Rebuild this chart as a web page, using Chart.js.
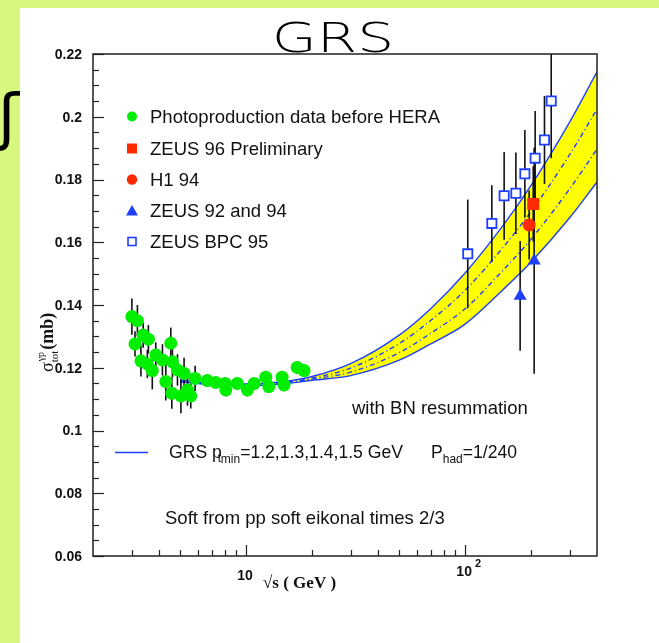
<!DOCTYPE html>
<html>
<head>
<meta charset="utf-8">
<script src="https://cdn.jsdelivr.net/npm/chart.js@4"></script>
<style>
  html, body { margin: 0; padding: 0; background: #d6f87c; }
  #panel { position: absolute; left: 20px; top: 8px; right: 0; bottom: 0; background: #ffffff; }
  #wrap { position: absolute; left: 0; top: 0; width: 659px; height: 643px; }
</style>
</head>
<body>
<div id="panel"></div>
<div id="wrap"><canvas id="grs-chart"></canvas></div>
<script>
// Datos
const photoX = [3.01, 3.19, 3.11, 3.39, 3.58, 3.31, 3.54, 3.73, 3.87, 4.15, 4.53, 4.61, 4.30, 4.86, 4.58, 5.04, 5.21, 5.40, 5.59, 5.85, 6.66, 7.27, 8.08, 8.02, 9.12, 10.14, 10.9, 12.3, 12.7, 14.6, 14.9, 17.1, 18.4];
const photoY = [0.1363, 0.1350, 0.1276, 0.1304, 0.1291, 0.1222, 0.1212, 0.1191, 0.1241, 0.1225, 0.1278, 0.1219, 0.1156, 0.1193, 0.1119, 0.1110, 0.1182, 0.1129, 0.1110, 0.1166, 0.1159, 0.1153, 0.1129, 0.1150, 0.1150, 0.1129, 0.1150, 0.1170, 0.1140, 0.1170, 0.1145, 0.1201, 0.1191];
const photoErr = [0.0058, 0.005, 0.004, 0.004, 0.0045, 0.005, 0.0045, 0.006, 0.004, 0.005, 0.005, 0.005, 0.006, 0.005, 0.005, 0.0055, 0.005, 0.005, 0.004, 0.004, 0.002, 0.002, 0.002, 0.002, 0.002, 0.002, 0.002, 0.002, 0.002, 0.002, 0.002, 0.002, 0.002];

const zeus96X = [204.6];
const zeus96Y = [0.1722];
const zeus96Err = [0.012];

const h1X = [196.0];
const h1Y = [0.1655];
const h1Err = [0.011];

const zeus92X = [178.3, 206.6];
const zeus92Y = [0.1429, 0.1541];
const zeus92Err = [0.0175, 0.036];

const bpcX = [102.8, 132.4, 150.7, 170.5, 187.4, 208.8, 230.3, 247.2];
const bpcY = [0.1563, 0.1660, 0.1748, 0.1756, 0.1818, 0.1868, 0.1926, 0.2050];
const bpcErr = [0.0173, 0.0122, 0.014, 0.013, 0.014, 0.015, 0.014, 0.0182];

// Curvas GRS (banda)
const curveX = [5, 7, 10, 15, 20, 30, 50, 70, 100, 150, 200, 300, 400];
const grsUpper = [0.1160, 0.1150, 0.1148, 0.1156, 0.1172, 0.1213, 0.1304, 0.1390, 0.1502, 0.1656, 0.1781, 0.1983, 0.2143];
const grsLower = [0.1155, 0.1146, 0.1143, 0.1149, 0.1160, 0.1175, 0.1224, 0.1277, 0.1339, 0.1451, 0.1537, 0.1678, 0.1792];
const grsMid1 = [0.1158, 0.1149, 0.1146, 0.1153, 0.1167, 0.1199, 0.1277, 0.1352, 0.1447, 0.1586, 0.1698, 0.1879, 0.2024];
const grsMid2 = [0.1157, 0.1147, 0.1145, 0.1152, 0.1164, 0.1186, 0.1248, 0.1311, 0.1388, 0.1513, 0.1610, 0.1770, 0.1897];

// Ejes
const yTicks = [0.06, 0.08, 0.1, 0.12, 0.14, 0.16, 0.18, 0.2, 0.22];
const yTickLabels = ["0.06", "0.08", "0.1", "0.12", "0.14", "0.16", "0.18", "0.2", "0.22"];
const xMajor = [10, 100];
const xMinor = [3, 4, 5, 6, 7, 8, 9, 20, 30, 40, 50, 60, 70, 80, 90, 200, 300];

const BLUE = "#1f3fff";
const GREEN = "#00ee00";
const RED = "#ff2a00";
const TXT = '18.5px "Liberation Sans"';
const TXT2 = '17.6px "Liberation Sans"';
const SUB = '12px "Liberation Sans"';

const pts = (xs, ys) => xs.map((x, i) => ({ x: x, y: ys[i] }));

const curve = (data, order, dash, extra) => Object.assign({
    type: "line",
    data: pts(curveX, data),
    borderColor: BLUE,
    borderWidth: 1.4,
    borderDash: dash,
    pointRadius: 0,
    cubicInterpolationMode: "monotone",
    fill: false,
    order: order,
}, extra || {});

const markers = (xs, ys, style, r, color, order, bg) => ({
    type: "scatter",
    data: pts(xs, ys),
    pointStyle: style,
    pointRadius: r,
    backgroundColor: bg || color,
    borderColor: color,
    borderWidth: bg ? 1.8 : 0,
    order: order,
});

// Barras de error, ticks hacia dentro, textos
const errorSets = [
    [photoX, photoY, photoErr],
    [bpcX, bpcY, bpcErr],
    [zeus92X, zeus92Y, zeus92Err],
    [h1X, h1Y, h1Err],
    [zeus96X, zeus96Y, zeus96Err],
];

const sub = (ctx, txt, x, y, font) => { ctx.font = font; ctx.fillText(txt, x, y); return ctx.measureText(txt).width; };

const decorPlugin = {
    id: "decor",
    afterDatasetDraw(chart, args) {
        if (args.index !== 0) return;
        const ctx = chart.ctx, xs = chart.scales.x, ys = chart.scales.y, a = chart.chartArea;
        ctx.save();
        ctx.beginPath();
        ctx.rect(a.left, a.top, a.right - a.left, a.bottom - a.top);
        ctx.clip();
        ctx.strokeStyle = "#111";
        ctx.lineWidth = 1.6;
        errorSets.forEach(([X, Y, E]) => {
            X.forEach((x, i) => {
                const px = xs.getPixelForValue(x);
                ctx.beginPath();
                ctx.moveTo(px, ys.getPixelForValue(Y[i] + E[i]));
                ctx.lineTo(px, ys.getPixelForValue(Y[i] - E[i]));
                ctx.stroke();
            });
        });
        ctx.restore();
    },
    afterDraw(chart) {
        const ctx = chart.ctx, xs = chart.scales.x, ys = chart.scales.y, a = chart.chartArea;
        ctx.save();
        ctx.strokeStyle = "#222";
        ctx.lineWidth = 1.5;
        ctx.strokeRect(a.left, a.top, a.right - a.left, a.bottom - a.top);

        // ticks eje y
        ctx.lineWidth = 1.2;
        for (let k = 12; k <= 44; k++) {
            const py = Math.round(ys.getPixelForValue(k * 0.005)) + 0.5;
            const len = k % 4 === 0 ? 11 : 6;
            ctx.beginPath();
            ctx.moveTo(a.left, py);
            ctx.lineTo(a.left + len, py);
            ctx.stroke();
        }
        // ticks eje x
        xMinor.concat(xMajor).forEach((v) => {
            const px = Math.round(xs.getPixelForValue(v)) + 0.5;
            const len = xMajor.includes(v) ? 11 : 6;
            ctx.beginPath();
            ctx.moveTo(px, a.bottom);
            ctx.lineTo(px, a.bottom - len);
            ctx.stroke();
        });

        // etiquetas eje y
        ctx.fillStyle = "#111";
        ctx.font = 'bold 14px "Liberation Sans"';
        ctx.textAlign = "right";
        ctx.textBaseline = "middle";
        yTicks.forEach((v, i) => {
            ctx.fillText(yTickLabels[i], a.left - 11, ys.getPixelForValue(v) + 1);
        });
        // etiquetas eje x
        ctx.textAlign = "center";
        ctx.textBaseline = "alphabetic";
        ctx.fillText("10", xs.getPixelForValue(10) - 1, 580);
        ctx.fillText("10", xs.getPixelForValue(100) - 1, 576);
        ctx.font = 'bold 11px "Liberation Sans"';
        ctx.fillText("2", xs.getPixelForValue(100) + 13, 567);
        ctx.textAlign = "left";
        ctx.font = 'bold 17px "Liberation Serif"';
        ctx.fillText("\u221As ( GeV )", 263, 588);

        // etiqueta eje y (rotada)
        ctx.save();
        ctx.translate(53, 372);
        ctx.rotate(-Math.PI / 2);
        ctx.textAlign = "left";
        let cx = 0;
        cx += sub(ctx, "\u03C3", cx, 0, '18px "Liberation Serif"');
        sub(ctx, "\u03B3p", cx + 1, -9, '10px "Liberation Serif"');
        cx += sub(ctx, "tot", cx, 5, '11px "Liberation Serif"') + 1;
        sub(ctx, "(mb)", cx, 0, 'bold 18px "Liberation Serif"');
        ctx.restore();

        // leyenda
        const lx = 132;
        const rows = [116.5, 148.5, 179.5, 211, 241.5];
        const labels = ["Photoproduction data before HERA", "ZEUS 96 Preliminary", "H1 94", "ZEUS 92 and 94", "ZEUS BPC 95"];
        ctx.fillStyle = GREEN;
        ctx.beginPath(); ctx.arc(lx, rows[0], 5, 0, Math.PI * 2); ctx.fill();
        ctx.fillStyle = RED;
        ctx.fillRect(lx - 5, rows[1] - 5, 10, 10);
        ctx.beginPath(); ctx.arc(lx, rows[2], 5.2, 0, Math.PI * 2); ctx.fill();
        ctx.fillStyle = BLUE;
        ctx.beginPath();
        ctx.moveTo(lx, rows[3] - 6); ctx.lineTo(lx + 6, rows[3] + 4.5); ctx.lineTo(lx - 6, rows[3] + 4.5);
        ctx.closePath(); ctx.fill();
        ctx.strokeStyle = BLUE; ctx.lineWidth = 1.6;
        ctx.fillStyle = "#fff";
        ctx.fillRect(lx - 4, rows[4] - 4, 8, 8);
        ctx.strokeRect(lx - 4, rows[4] - 4, 8, 8);

        ctx.fillStyle = "#111";
        ctx.textBaseline = "middle";
        ctx.font = TXT;
        labels.forEach((t, i) => ctx.fillText(t, 150, rows[i] + 1));

        ctx.fillText("with BN resummation", 352, 409);
        ctx.fillText("Soft from pp soft eikonal times 2/3", 165, 519);

        // linea GRS
        ctx.strokeStyle = BLUE; ctx.lineWidth = 1.4;
        ctx.beginPath(); ctx.moveTo(115, 452.5); ctx.lineTo(148, 452.5); ctx.stroke();
        ctx.textBaseline = "alphabetic";
        let tx = 169;
        tx += sub(ctx, "GRS p", tx, 458, TXT2);
        sub(ctx, "t", tx - 4, 462, SUB);
        tx += sub(ctx, "min", tx - 1, 463, SUB) - 1;
        sub(ctx, "=1.2,1.3,1.4,1.5 GeV", tx, 458, TXT2);
        tx = 431;
        tx += sub(ctx, "P", tx, 458, TXT2);
        tx += sub(ctx, "had", tx, 463, SUB);
        sub(ctx, "=1/240", tx, 458, TXT2);

        // titulo
        ctx.save();
        ctx.fillStyle = "#000";
        ctx.translate(333, 52);
        ctx.scale(1.42, 1);
        ctx.textAlign = "center";
        ctx.font = '200 41px "DejaVu Sans"';
        ctx.fillText("GRS", 0, 0);
        ctx.restore();

        // glifo del borde izquierdo
        ctx.fillStyle = "#000";
        ctx.textAlign = "left";
        ctx.font = '62px "DejaVu Sans"';
        ctx.fillText("\u0283", -2, 138);
        ctx.restore();
    },
};

const initializeChart = () => {
    const ctx = document.getElementById("grs-chart").getContext("2d");
    new Chart(ctx, {
        type: "scatter",
        data: {
            datasets: [
                curve(grsUpper, 10, [], { fill: "+1", backgroundColor: "#ffff00" }),
                curve(grsLower, 11, []),
                curve(grsMid1, 12, [5, 3, 1, 3]),
                curve(grsMid2, 13, [5, 3, 1, 3]),
                markers(photoX, photoY, "circle", 6.5, GREEN, 5),
                markers(bpcX, bpcY, "rect", 6.5, BLUE, 4, "#ffffff"),
                markers(zeus92X, zeus92Y, "triangle", 7.5, BLUE, 3),
                markers(h1X, h1Y, "circle", 6.5, RED, 2),
                markers(zeus96X, zeus96Y, "rect", 8.5, RED, 1),
            ],
        },
        options: {
            responsive: true,
            maintainAspectRatio: false,
            animation: false,
            layout: { padding: { left: 93, top: 54, right: 62, bottom: 87 } },
            plugins: {
                legend: { display: false },
                tooltip: { enabled: false },
                filler: { drawTime: "beforeDatasetsDraw" },
            },
            scales: {
                x: { type: "logarithmic", min: 2, max: 400, display: false },
                y: { type: "linear", min: 0.06, max: 0.22, display: false },
            },
        },
        plugins: [decorPlugin],
    });
};

document.addEventListener("DOMContentLoaded", initializeChart);
</script>
</body>
</html>
